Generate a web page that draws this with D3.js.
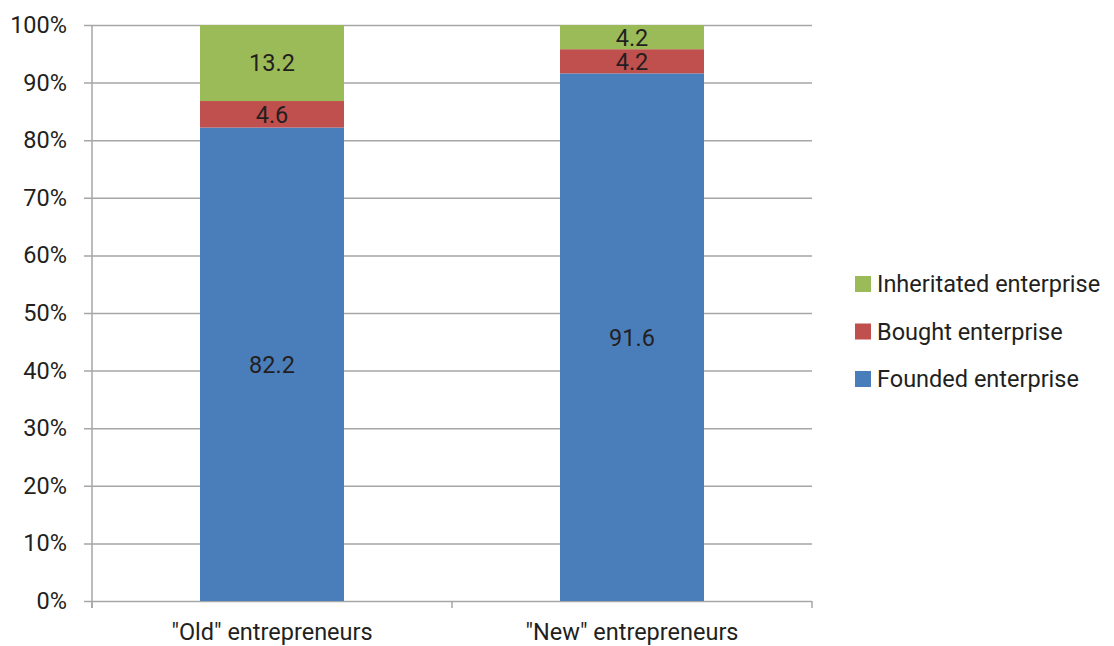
<!DOCTYPE html>
<html>
<head>
<meta charset="utf-8">
<script src="https://cdn.jsdelivr.net/npm/d3@7/dist/d3.min.js"></script>
<style>
  html, body { margin: 0; padding: 0; background: #fff; }
  svg text { font-family: Roboto, "Noto Sans", sans-serif; fill: #231f20; }
</style>
</head>
<body>
<svg id="chart" width="1114" height="646"></svg>
<script>
// Share of entrepreneurs by how the enterprise was acquired (%)
const categories = ['"Old" entrepreneurs', '"New" entrepreneurs'];
const seriesNames = ["Founded enterprise", "Bought enterprise", "Inheritated enterprise"];
const founded = [82.2, 91.6];
const bought = [4.6, 4.2];
const inherited = [13.2, 4.2];
const yTicks = [0, 10, 20, 30, 40, 50, 60, 70, 80, 90, 100];
const colors = ["#4a7ebb", "#c0504d", "#9bbb59"];

const FONT = 23.5;

const rows = categories.map((c, i) => ({
  category: c,
  "Founded enterprise": founded[i],
  "Bought enterprise": bought[i],
  "Inheritated enterprise": inherited[i]
}));

const svg = d3.select("#chart");
const margin = { left: 92, right: 302, top: 25, bottom: 45 };
const W = 1114, H = 646;
const plotW = W - margin.left - margin.right;
const plotH = H - margin.top - margin.bottom;

const x = d3.scaleBand().domain(categories).range([0, plotW]).paddingInner(0.6).paddingOuter(0.3);
const y = d3.scaleLinear().domain([0, 100]).range([plotH, 0]);
const color = d3.scaleOrdinal().domain(seriesNames).range(colors);

const g = svg.append("g").attr("transform", `translate(${margin.left},${margin.top})`);

// horizontal gridlines with outer tick marks
const yAxis = g.append("g")
  .call(d3.axisLeft(y).tickValues(yTicks).tickSize(-plotW).tickSizeOuter(0).tickPadding(25)
    .tickFormat(d => d + "%"));
yAxis.select(".domain").remove();
yAxis.selectAll(".tick line").attr("stroke", "#a6a6a6").attr("stroke-width", 1.5).attr("x1", -8);
yAxis.selectAll(".tick text").attr("font-size", FONT).style("font-family", "Roboto, sans-serif");

// vertical axis line
g.append("line").attr("x1", 0).attr("x2", 0).attr("y1", 0).attr("y2", plotH + 7)
  .attr("stroke", "#a6a6a6").attr("stroke-width", 1.5);

// category separators on the x axis
const sepX = [0, plotW / 2, plotW];
g.selectAll(".sep").data(sepX).join("line")
  .attr("x1", d => d).attr("x2", d => d).attr("y1", plotH).attr("y2", plotH + 7)
  .attr("stroke", "#a6a6a6").attr("stroke-width", 1.5);

// category labels
const xAxis = g.append("g").attr("transform", `translate(0,${plotH})`)
  .call(d3.axisBottom(x).tickSize(0).tickPadding(22));
xAxis.select(".domain").remove();
xAxis.selectAll(".tick text").attr("font-size", FONT).style("font-family", "Roboto, sans-serif");

// stacked bars
const stacked = d3.stack().keys(seriesNames)(rows);
const layer = g.selectAll(".layer").data(stacked).join("g")
  .attr("fill", d => color(d.key));
layer.selectAll("rect").data(d => d.map(p => ({ p, key: d.key }))).join("rect")
  .attr("x", d => x(d.p.data.category))
  .attr("width", x.bandwidth())
  .attr("y", d => y(d.p[1]))
  .attr("height", d => y(d.p[0]) - y(d.p[1]));

// value labels centred in each segment
layer.selectAll("text").data(d => d.map(p => ({ p, key: d.key }))).join("text")
  .attr("x", d => x(d.p.data.category) + x.bandwidth() / 2)
  .attr("y", d => y((d.p[0] + d.p[1]) / 2))
  .attr("dy", "0.36em")
  .attr("text-anchor", "middle")
  .attr("font-size", FONT)
  .text(d => (d.p[1] - d.p[0]).toFixed(1));

// legend (top entry is the top segment)
const legendItems = seriesNames.slice().reverse();
const legend = svg.append("g").attr("transform", "translate(855,284)");
const li = legend.selectAll("g").data(legendItems).join("g")
  .attr("transform", (d, i) => `translate(0,${i * 47.5})`);
li.append("rect").attr("x", 0).attr("y", -8).attr("width", 16).attr("height", 16)
  .attr("fill", d => color(d));
li.append("text").attr("x", 22).attr("y", 0).attr("dy", "0.36em")
  .attr("font-size", FONT).text(d => d);
</script>
</body>
</html>
